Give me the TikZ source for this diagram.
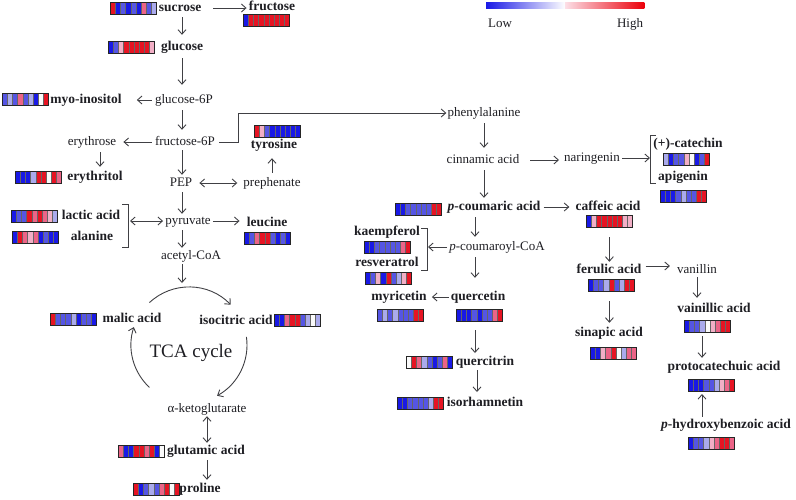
\documentclass[tikz,border=0pt]{standalone}
\usepackage{fontspec}
\setmainfont{Liberation Serif}
\usetikzlibrary{arrows.meta,calc}
\definecolor{hB}{RGB}{25,25,230}
\definecolor{hb}{RGB}{85,85,228}
\definecolor{hlb}{RGB}{170,170,236}
\definecolor{hW}{RGB}{250,250,250}
\definecolor{hlp}{RGB}{242,175,198}
\definecolor{hp}{RGB}{236,100,135}
\definecolor{hR}{RGB}{230,20,35}
\definecolor{ink}{RGB}{30,30,35}
\newcommand\hmap[3]{%
  \node[hmbox,anchor=north west] (#1) at (#2) {};
  \foreach \cc [count=\i from 0] in {#3}{
    \fill[\cc] ([xshift=\i*5.2pt]#1.north west) rectangle ++(5.2,12);
    \draw[hmsep] ([xshift=\i*5.2pt]#1.north west) -- ++(0,12);
  }
  \draw[hmframe] (#1.north west) rectangle (#1.south east);
}
\tikzset{
  txt/.style={font=\fontsize{13}{15}\selectfont, text=ink, inner sep=1pt, text height=9pt, text depth=3pt},
  btxt/.style={txt, font=\fontsize{13.5}{15}\selectfont\bfseries},
  hmbox/.style={minimum width=46.8pt, minimum height=12pt, inner sep=0pt, outer sep=0pt},
  hmsep/.style={draw=black!60, line width=0.35pt},
  hmframe/.style={draw=black!85, line width=0.7pt},
  arr/.style={draw=ink!85, line width=0.9pt, -{Straight Barb[length=4.5pt,width=8pt]}},
  darr/.style={draw=ink!85, line width=0.9pt, {Straight Barb[length=4.5pt,width=8pt]}-{Straight Barb[length=4.5pt,width=8pt]}},
  brk/.style={draw=ink!85, line width=0.9pt},
}
\begin{document}
\begin{tikzpicture}[x=1pt,y=-1pt]
\useasboundingbox (0,0) rectangle (796,499);
% legend
\node[minimum width=158pt, minimum height=6pt, inner sep=0pt, anchor=north west] (legend) at (486,2) {};
\shade[left color=hB, right color=white] (legend.north west) rectangle (legend.south);
\shade[left color={rgb,255:red,252;green,222;blue,230}, right color={rgb,255:red,235;green,0;blue,10}] (legend.north) rectangle (legend.south east);
\node[txt] (low) at (500,24) {Low};
\node[txt] (high) at (630,24) {High};

% left labels
\node[btxt] (suc) at (180,8) {sucrose};
\node[btxt] (fru) at (272,7) {fructose};
\node[btxt] (glc) at (182,47) {glucose};
\node[txt] (g6p) at (184,100) {glucose-6P};
\node[btxt] (myo) at (86,100) {myo-inositol};
\node[txt] (f6p) at (185,142) {fructose-6P};
\node[txt] (ery) at (92,142) {erythrose};
\node[btxt] (eryt) at (95,177) {erythritol};
\node[txt] (pep) at (181,183) {PEP};
\node[txt] (preph) at (272,183) {prephenate};
\node[btxt] (tyr) at (274,145) {tyrosine};
\node[txt] (pyr) at (188,221) {pyruvate};
\node[btxt] (leu) at (267,223) {leucine};
\node[btxt] (lac) at (91,216) {lactic acid};
\node[btxt] (ala) at (92,237) {alanine};
\node[txt] (acoa) at (191,256) {acetyl-CoA};
\node[btxt] (mal) at (132,319) {malic acid};
\node[btxt] (iso) at (236,321) {isocitric acid};
\node[font=\fontsize{19}{21}\selectfont, text=ink] (tca) at (191,353) {TCA cycle};
\node[txt] (akg) at (207,409) {α-ketoglutarate};
\node[btxt] (glu) at (206,451) {glutamic acid};
\node[btxt] (pro) at (200,489) {proline};

% right labels
\node[txt] (phe) at (484,113) {phenylalanine};
\node[txt] (cin) at (483,160) {cinnamic acid};
\node[txt] (nar) at (592,158) {naringenin};
\node[btxt] (cat) at (688,144) {(+)-catechin};
\node[btxt] (api) at (683,177) {apigenin};
\node[btxt] (pcou) at (494,207) {\textit{p}-coumaric acid};
\node[btxt] (caf) at (608,207) {caffeic acid};
\node[txt] (pcoa) at (497,247) {\textit{p}-coumaroyl-CoA};
\node[btxt] (kae) at (387,232) {kaempferol};
\node[btxt] (res) at (387,263) {resveratrol};
\node[btxt] (myr) at (399,297) {myricetin};
\node[btxt] (que) at (478,297) {quercetin};
\node[btxt] (quc) at (485,362) {quercitrin};
\node[btxt] (isr) at (485,403) {isorhamnetin};
\node[btxt] (fer) at (609,270) {ferulic acid};
\node[btxt] (sin) at (609,333) {sinapic acid};
\node[txt] (van) at (697,270) {vanillin};
\node[btxt] (vai) at (714,309) {vainillic acid};
\node[btxt] (pro2) at (724,367) {protocatechuic acid};
\node[btxt] (phb) at (726,425) {\textit{p}-hydroxybenzoic acid};

% heat maps
\hmap{sucH}{110,2}{hR,hB,hb,hB,hb,hB,hp,hb,hlb}
\hmap{fruH}{243,14}{hB,hR,hR,hR,hR,hR,hR,hR,hR}
\hmap{glcH}{108,41}{hB,hb,hlp,hR,hR,hR,hR,hR,hlp}
\hmap{myoH}{2,93}{hb,hlb,hb,hp,hb,hlb,hB,hW,hR}
\hmap{erytH}{15,171}{hB,hB,hB,hlb,hR,hR,hW,hR,hp}
\hmap{tyrH}{254,125}{hR,hlp,hb,hB,hB,hB,hB,hB,hB}
\hmap{lacH}{11,210}{hB,hb,hb,hR,hp,hR,hp,hlp,hlb}
\hmap{alaH}{12,231}{hB,hR,hp,hlp,hp,hB,hb,hB,hB}
\hmap{leuH}{244,232}{hB,hb,hp,hR,hR,hb,hB,hb,hB}
\hmap{malH}{50,313}{hR,hb,hb,hb,hlb,hB,hb,hb,hB}
\hmap{isoH}{274,314}{hB,hB,hp,hR,hR,hb,hlb,hW,hlb}
\hmap{gluH}{118,445}{hp,hB,hB,hR,hR,hp,hR,hB,hW}
\hmap{proH}{133,483}{hR,hB,hb,hlb,hb,hp,hR,hW,hR}
\hmap{pcouH}{395,203}{hB,hB,hb,hb,hb,hb,hb,hR,hR}
\hmap{kaeH}{364,241}{hB,hB,hb,hb,hb,hb,hb,hp,hR}
\hmap{resH}{365,272}{hB,hb,hlp,hB,hR,hb,hlb,hlp,hR}
\hmap{myrH}{377,309}{hb,hlb,hb,hlb,hb,hb,hb,hR,hR}
\hmap{queH}{456,309}{hB,hB,hB,hb,hB,hb,hb,hp,hR}
\hmap{qucH}{406,356}{hW,hR,hp,hlb,hb,hB,hb,hp,hB}
\hmap{isrH}{397,397}{hB,hB,hb,hb,hb,hb,hlb,hR,hR}
\hmap{catH}{663,153}{hlb,hB,hb,hb,hlp,hW,hB,hb,hR}
\hmap{apiH}{660,190}{hB,hB,hB,hb,hlb,hb,hb,hR,hR}
\hmap{cafH}{586,215}{hB,hlp,hR,hR,hR,hR,hR,hlp,hlp}
\hmap{ferH}{588,279}{hB,hb,hb,hlb,hR,hb,hlb,hR,hR}
\hmap{sinH}{590,347}{hB,hB,hlp,hp,hR,hW,hlb,hp,hp}
\hmap{vaiH}{684,320}{hB,hb,hb,hlb,hW,hlp,hp,hR,hR}
\hmap{pro2H}{688,379}{hB,hB,hB,hb,hb,hlb,hlp,hp,hR}
\hmap{phbH}{688,437}{hB,hb,hb,hlb,hlp,hp,hR,hR,hp}

% connectors, left
\coordinate (col) at (182,0);
\draw[arr,shorten <=11pt,shorten >=1pt] (suc.east) -- (suc.east -| fru.west);
\draw[arr,shorten <=2pt,shorten >=5pt] (col |- suc.south) -- (col |- glc.north);
\draw[arr,shorten <=4pt,shorten >=8pt] (col |- glc.south) -- (col |- g6p.north);
\draw[arr,shorten <=2pt,shorten >=14pt] (g6p.west) -- (g6p.west -| myo.east);
\draw[arr,shorten <=3pt,shorten >=5pt] (col |- g6p.south) -- (col |- f6p.north);
\draw[arr,shorten <=2pt,shorten >=6pt] (f6p.west) -- (f6p.west -| ery.east);
\draw[arr,shorten <=3pt,shorten >=3pt] ([xshift=8pt]ery.south) -- ([xshift=8pt]ery.south |- eryt.north);
\draw[arr,shorten <=1pt,shorten >=1pt] (col |- f6p.south) -- (col |- pep.north);
\draw[darr,shorten <=6pt,shorten >=5pt] (pep.east) -- (pep.east -| preph.west);
\draw[arr,shorten <=3pt,shorten >=6pt] (preph.north) -- (preph.north |- tyr.south);
\draw[arr,shorten <=3pt] (f6p.east) -- ++(22,0) |- (phe.west);
\draw[arr,shorten <=2pt] (col |- pep.south) -- (col |- pyr.north);
\draw[arr,shorten <=1pt,shorten >=6pt] (pyr.east) -- (pyr.east -| leu.west);
\draw[brk] (122,204) -- (128,204) -- (128,247) -- (122,247);
\coordinate (labr) at (128,221);
\draw[darr,shorten <=2pt,shorten >=1pt] (labr) -- (labr -| pyr.west);
\draw[arr,shorten <=2pt,shorten >=1pt] (col |- pyr.south) -- (col |- acoa.north);
\coordinate (cc) at (189,345);
\coordinate (ctop) at (182,288);
\draw[arr,shorten <=1pt,shorten >=5pt] (col |- acoa.south) -- (ctop);
\draw[arr] ($(cc)+(-133:58)$) arc[start angle=-133,end angle=-44,radius=58];
\draw[arr] ($(cc)+(133:58)$) arc[start angle=133,end angle=198,radius=58];
\draw[arr] ($(cc)+(-8:58)$) arc[start angle=-8,end angle=61,radius=58];
\draw[darr,shorten <=0pt,shorten >=1pt] (akg.south) -- (akg.south |- glu.north);
\draw[arr,shorten <=2pt,shorten >=2pt] (akg.south |- glu.south) -- (akg.south |- pro.north);

% connectors, right
\draw[arr,shorten <=3pt,shorten >=5pt] (phe.south) -- (phe.south |- cin.north);
\draw[arr,shorten <=10pt,shorten >=4pt] (cin.east) -- (cin.east -| nar.west);
\coordinate (cbr) at (650,158);
\draw[arr,shorten <=1pt] (nar.east) -- (cbr);
\draw[brk] (656,135) -- (650,135) -- (650,183) -- (656,183);
\draw[arr,shorten <=3pt,shorten >=2pt] (phe.south |- cin.south) -- (phe.south |- pcou.north);
\draw[arr,shorten <=2pt,shorten >=5pt] (pcou.east) -- (pcou.east -| caf.west);
\coordinate (col2) at (475,0);
\draw[arr,shorten <=3pt,shorten >=3pt] (col2 |- pcou.south) -- (col2 |- pcoa.north);
\coordinate (kbr) at (428,247);
\draw[arr,shorten <=1pt] (pcoa.west) -- (kbr);
\draw[brk] (421,228) -- (427,228) -- (427,270) -- (421,270);
\draw[arr,shorten <=3pt,shorten >=12pt] (col2 |- pcoa.south) -- (col2 |- que.north);
\draw[arr,shorten <=1pt,shorten >=4pt] (que.west) -- (que.west -| myr.east);
\draw[arr,shorten <=9pt,shorten >=3pt] (col2 |- queH.south) -- (col2 |- qucH.north);
\draw[arr,shorten <=2pt,shorten >=5pt] ([xshift=2pt]col2 |- qucH.south) -- ([xshift=2pt]col2 |- isrH.north);
\draw[arr,shorten <=10pt,shorten >=1pt] (cafH.south) -- (cafH.south |- fer.north);
\draw[arr,shorten <=3pt,shorten >=6pt] ([yshift=4pt]fer.east) -- ([yshift=4pt]fer.east -| van.west);
\draw[arr,shorten <=10pt,shorten >=3pt] ([xshift=-2pt]ferH.south) -- ([xshift=-2pt]ferH.south |- sin.north);
\draw[arr,shorten <=0pt,shorten >=4pt] (van.south) -- (van.south |- vai.north);
\coordinate (col3) at (702,0);
\draw[arr,shorten <=4pt,shorten >=2pt] (col3 |- vaiH.south) -- (col3 |- pro2.north);
\draw[arr,shorten <=1pt,shorten >=3pt] (col3 |- phb.north) -- (col3 |- pro2H.south);
\end{tikzpicture}
\end{document}
